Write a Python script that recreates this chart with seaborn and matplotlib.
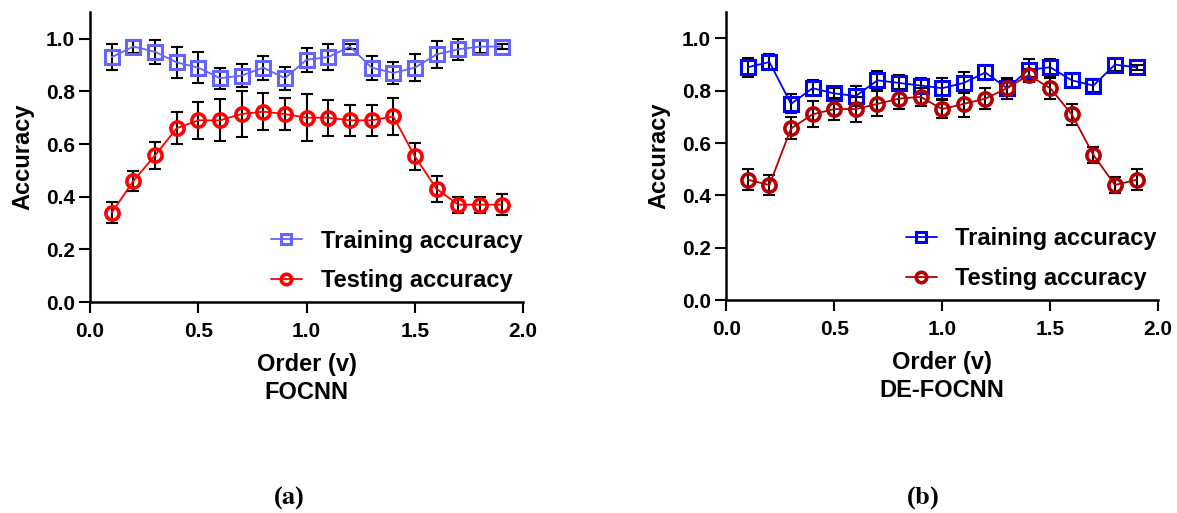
"""
Training vs testing accuracy against fractional order (FOCNN / DE-FOCNN)
"""

import numpy as np
import pandas as pd
import matplotlib
matplotlib.use('Agg')
import matplotlib.pyplot as plt
import seaborn as sns

# Data
order = [0.1, 0.2, 0.3, 0.4, 0.5, 0.6, 0.7, 0.8, 0.9, 1.0,
         1.1, 1.2, 1.3, 1.4, 1.5, 1.6, 1.7, 1.8, 1.9]

focnn_train = [0.93, 0.97, 0.95, 0.91, 0.89, 0.85, 0.86, 0.89, 0.85, 0.92,
               0.93, 0.97, 0.89, 0.87, 0.89, 0.94, 0.96, 0.97, 0.97]
focnn_train_err = [0.048, 0.025, 0.045, 0.06, 0.06, 0.04, 0.045, 0.045, 0.043, 0.045,
                   0.048, 0.01, 0.045, 0.043, 0.05, 0.05, 0.04, 0.025, 0.01]
focnn_test = [0.34, 0.46, 0.557, 0.66, 0.69, 0.69, 0.714, 0.723, 0.714, 0.70,
              0.70, 0.69, 0.69, 0.705, 0.553, 0.43, 0.37, 0.37, 0.37]
focnn_test_err = [0.039, 0.039, 0.05, 0.06, 0.069, 0.08, 0.089, 0.07, 0.06, 0.09,
                  0.069, 0.059, 0.059, 0.069, 0.05, 0.05, 0.03, 0.03, 0.04]

de_train = [0.89, 0.91, 0.75, 0.81, 0.79, 0.78, 0.84, 0.83, 0.82, 0.81,
            0.83, 0.87, 0.81, 0.88, 0.89, 0.84, 0.82, 0.90, 0.89]
de_train_err = [0.037, 0.03, 0.036, 0.03, 0.02, 0.04, 0.035, 0.03, 0.03, 0.04,
                0.04, 0.027, 0.03, 0.04, 0.033, 0.028, 0.025, 0.024, 0.01]
de_test = [0.46, 0.44, 0.656, 0.71, 0.73, 0.73, 0.75, 0.77, 0.777, 0.73,
           0.75, 0.77, 0.81, 0.86, 0.81, 0.71, 0.555, 0.44, 0.46]
de_test_err = [0.04, 0.04, 0.042, 0.05, 0.043, 0.048, 0.048, 0.038, 0.035, 0.035,
               0.052, 0.04, 0.04, 0.025, 0.04, 0.04, 0.03, 0.03, 0.04]

x_ticks = [0.0, 0.5, 1.0, 1.5, 2.0]
y_ticks = [0.0, 0.2, 0.4, 0.6, 0.8, 1.0]

sns.set_style('ticks')
plt.rcParams['font.family'] = ['Liberation Sans', 'DejaVu Sans']
plt.rcParams['font.weight'] = 'bold'
plt.rcParams['text.color'] = 'black'
plt.rcParams['axes.labelcolor'] = 'black'
plt.rcParams['xtick.color'] = 'black'
plt.rcParams['ytick.color'] = 'black'

fig = plt.figure(figsize=(11.77, 5.13), dpi=100)
ax_a = fig.add_axes([0.0765, 0.411, 0.368, 0.565])
ax_b = fig.add_axes([0.617, 0.415, 0.367, 0.561])


def draw_panel(ax, train, train_err, test, test_err, c_train, c_test, name):
    df = pd.DataFrame({'order': order, 'train': train, 'test': test})
    ax.errorbar(order, train, yerr=train_err, fmt='none', ecolor='black',
                elinewidth=1.5, capsize=4, capthick=1.5, zorder=2)
    ax.errorbar(order, test, yerr=test_err, fmt='none', ecolor='black',
                elinewidth=1.5, capsize=4, capthick=1.5, zorder=2)
    sns.lineplot(data=df, x='order', y='train', ax=ax, color=c_train,
                 marker='s', markersize=9.5, markeredgewidth=2.2,
                 markeredgecolor=c_train, fillstyle='none', linewidth=1.3,
                 label='Training accuracy', zorder=3)
    sns.lineplot(data=df, x='order', y='test', ax=ax, color=c_test,
                 marker='o', markersize=9.5, markeredgewidth=2.6,
                 markeredgecolor=c_test, fillstyle='none', linewidth=1.3,
                 label='Testing accuracy', zorder=3)
    ax.set_xlim(0, 2.0)
    ax.set_ylim(0, 1.1)
    ax.set_xticks(x_ticks)
    ax.set_yticks(y_ticks)
    ax.set_xticklabels([f'{t:.1f}' for t in x_ticks], fontsize=15, fontweight='bold')
    ax.set_yticklabels([f'{t:.1f}' for t in y_ticks], fontsize=15, fontweight='bold')
    ax.tick_params(direction='out', length=8, width=1.5, color='black',
                   labelcolor='black')
    ax.tick_params(axis='x', pad=6)
    ax.tick_params(axis='y', pad=3)
    ax.set_xlabel('Order (v)\n' + name, fontsize=17, fontweight='bold',
                  labelpad=9, linespacing=1.28, color='black')
    ax.set_ylabel('Accuracy', fontsize=17, fontweight='bold', labelpad=8,
                  color='black')
    for side in ['left', 'bottom']:
        ax.spines[side].set_linewidth(1.8)
        ax.spines[side].set_color('black')
    sns.despine(ax=ax)
    leg = ax.legend(loc='lower right', bbox_to_anchor=(1.03, -0.014), frameon=False,
                    prop={'size': 17, 'weight': 'bold'}, handlelength=1.3,
                    handletextpad=0.8, labelspacing=0.7, borderaxespad=0.2)
    for h in leg.legend_handles:
        h.set_markersize(7.5)
    for t in leg.get_texts():
        t.set_color('black')


draw_panel(ax_a, focnn_train, focnn_train_err, focnn_test, focnn_test_err,
           '#6464ff', '#ff0000', 'FOCNN')
draw_panel(ax_b, de_train, de_train_err, de_test, de_test_err,
           '#0000ff', '#b40000', 'DE-FOCNN')

fig.text(289 / 1177, 1 - 498 / 513, r'($\mathbf{a}$)', ha='center', va='center',
         fontsize=19, family='Liberation Serif', math_fontfamily='stix')
fig.text(923 / 1177, 1 - 498 / 513, r'($\mathbf{b}$)', ha='center', va='center',
         fontsize=19, family='Liberation Serif', math_fontfamily='stix')

fig.savefig('out.png', dpi=100)
